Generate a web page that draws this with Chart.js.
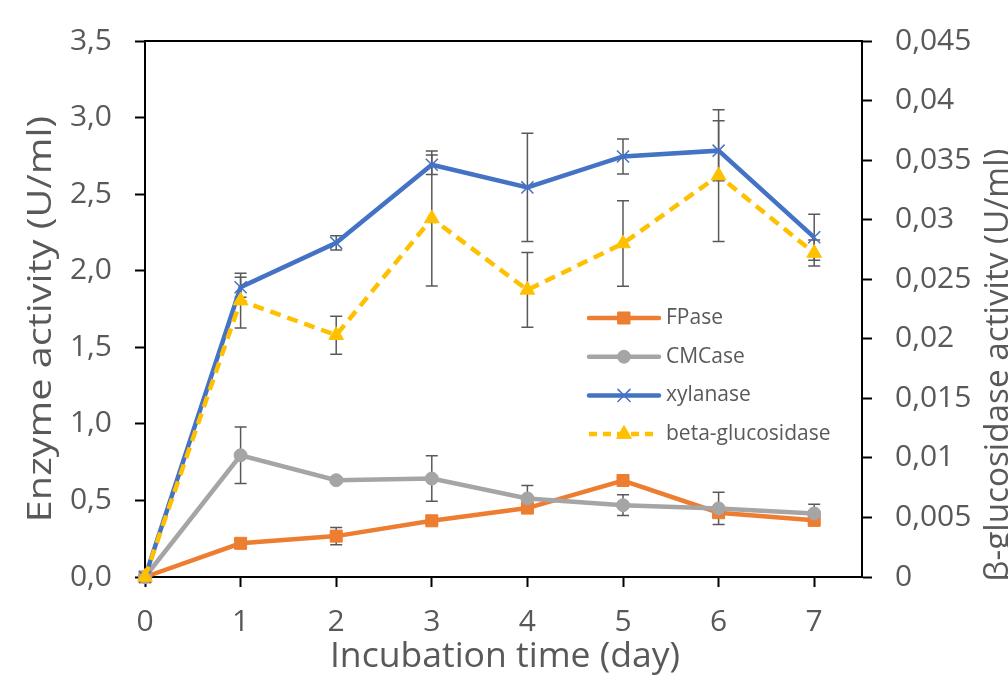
<!DOCTYPE html>
<html>
<head>
<meta charset="utf-8">
<script src="https://cdn.jsdelivr.net/npm/chart.js@4.4.1/dist/chart.umd.min.js"></script>
<style>
  html, body { margin: 0; padding: 0; background: #fff; }
  #wrap { width: 1008px; height: 685px; position: relative; }
</style>
</head>
<body>
<div id="wrap"><canvas id="c" width="1008" height="685"></canvas></div>
<script>
// ---- Data ----
const days = [0, 1, 2, 3, 4, 5, 6, 7];
const fpase = [0, 0.22, 0.267, 0.367, 0.45, 0.63, 0.42, 0.37];
const fpaseErr = [0, 0.02, 0.057, 0.02, 0.02, 0.03, 0.03, 0.02];
const cmcase = [0, 0.795, 0.632, 0.643, 0.513, 0.469, 0.448, 0.415];
const cmcaseErr = [0, 0.185, 0.02, 0.148, 0.085, 0.068, 0.105, 0.06];
const xylanase = [0, 1.892, 2.182, 2.692, 2.544, 2.746, 2.784, 2.218];
const xylanaseErr = [0, 0.065, 0.046, 0.063, 0.354, 0.114, 0.196, 0.15];
const betaGlu = [0, 0.0232, 0.0203, 0.0301, 0.0241, 0.0280, 0.0337, 0.0272];
const betaGluErr = [0, 0.0023, 0.0016, 0.00566, 0.00314, 0.00359, 0.00553, 0.0011];
const seriesNames = ['FPase', 'CMCase', 'xylanase', 'beta-glucosidase'];
const xTitle = 'Incubation time (day)';
const yTitle = 'Enzyme activity (U/ml)';
const y2Title = 'β-glucosidase activity (U/ml)';

const FONT = "'Open Sans', 'Noto Sans', sans-serif";
const TXT = '#595959';

const pts = (vals) => days.map((d, i) => ({ x: d, y: vals[i] }));

const datasets = [
  { label: seriesNames[0], data: pts(fpase), errors: fpaseErr, yAxisID: 'y',
    borderColor: '#ED7D31', backgroundColor: '#ED7D31', borderWidth: 4.5,
    pointStyle: 'rect', pointRadius: 8.5, pointBorderWidth: 1, order: 3 },
  { label: seriesNames[1], data: pts(cmcase), errors: cmcaseErr, yAxisID: 'y',
    borderColor: '#A5A5A5', backgroundColor: '#A5A5A5', borderWidth: 4.5,
    pointStyle: 'circle', pointRadius: 6.5, pointBorderWidth: 1, order: 2 },
  { label: seriesNames[2], data: pts(xylanase), errors: xylanaseErr, yAxisID: 'y',
    borderColor: '#4472C4', backgroundColor: '#4472C4', borderWidth: 4.5,
    pointStyle: 'crossRot', pointRadius: 8.5, pointBorderWidth: 1.5, order: 1 },
  { label: seriesNames[3], data: pts(betaGlu), errors: betaGluErr, yAxisID: 'y2',
    borderColor: '#FFC000', backgroundColor: '#FFC000', borderWidth: 4.5, borderDash: [11, 7],
    pointStyle: 'triangle', pointRadius: 8.5, pointBorderWidth: 1, order: 0 }
];
datasets.forEach(d => { d.clip = false; d.tension = 0; d.fill = false; d.pointHoverRadius = d.pointRadius; });

const errorBars = {
  id: 'errorBars',
  beforeDatasetsDraw(chart) {
    const ctx = chart.ctx;
    const xs = chart.scales.x;
    ctx.save();
    ctx.strokeStyle = '#595959';
    ctx.lineWidth = 1.5;
    chart.data.datasets.forEach(ds => {
      const ys = chart.scales[ds.yAxisID];
      ds.data.forEach((p, i) => {
        const e = ds.errors[i];
        if (!e) return;
        const x = xs.getPixelForValue(p.x);
        const yt = ys.getPixelForValue(p.y + e);
        const yb = ys.getPixelForValue(p.y - e);
        ctx.beginPath();
        ctx.moveTo(x, yt); ctx.lineTo(x, yb);
        ctx.moveTo(x - 6, yt); ctx.lineTo(x + 6, yt);
        ctx.moveTo(x - 6, yb); ctx.lineTo(x + 6, yb);
        ctx.stroke();
      });
    });
    ctx.restore();
  }
};

function stretchedText(ctx, text, size, targetWidth) {
  ctx.font = `${size}px ${FONT}`;
  const m = ctx.measureText(text);
  const w = (m.actualBoundingBoxLeft || 0) + (m.actualBoundingBoxRight || m.width);
  const sx = targetWidth / w;
  ctx.scale(sx, 1);
  ctx.fillText(text, 0, 0);
}

const decor = {
  id: 'decor',
  beforeDatasetsDraw(chart) {
    const { ctx, chartArea: a } = chart;
    ctx.save();
    ctx.strokeStyle = '#000';
    ctx.lineWidth = 2;
    ctx.beginPath();
    ctx.moveTo(a.left, a.top); ctx.lineTo(a.right, a.top);
    ctx.stroke();
    ctx.restore();
  },
  afterDraw(chart) {
    const { ctx, chartArea: a } = chart;
    ctx.save();
    ctx.fillStyle = TXT;
    ctx.textAlign = 'center';
    ctx.textBaseline = 'alphabetic';
    // bottom title
    ctx.save();
    ctx.translate(505, 667);
    stretchedText(ctx, xTitle, 34, 346);
    ctx.restore();
    // left title
    ctx.save();
    ctx.translate(51, 319);
    ctx.rotate(-Math.PI / 2);
    stretchedText(ctx, yTitle, 32, 402);
    ctx.restore();
    // right title
    ctx.save();
    ctx.translate(1008, 365);
    ctx.rotate(-Math.PI / 2);
    stretchedText(ctx, y2Title, 33, 430);
    ctx.restore();

    // legend
    const lx0 = 589, lx1 = 659, tx = 666, ly0 = 318, dy = 38.7;
    ctx.font = `21px ${FONT}`;
    ctx.textAlign = 'left';
    ctx.textBaseline = 'middle';
    chart.data.datasets.forEach((ds, i) => {
      const y = ly0 + i * dy;
      ctx.save();
      ctx.strokeStyle = ds.borderColor;
      ctx.lineWidth = 4.5;
      ctx.lineCap = 'round';
      if (ds.borderDash) { ctx.setLineDash([8, 6]); ctx.lineCap = 'butt'; }
      ctx.beginPath();
      ctx.moveTo(lx0, y); ctx.lineTo(lx1, y);
      ctx.stroke();
      ctx.setLineDash([]);
      ctx.fillStyle = ds.backgroundColor;
      ctx.strokeStyle = ds.borderColor;
      ctx.lineWidth = ds.pointBorderWidth;
      Chart.helpers.drawPoint(ctx, { pointStyle: ds.pointStyle, radius: ds.pointRadius, rotation: 0, borderWidth: ds.pointBorderWidth }, (lx0 + lx1) / 2, y);
      ctx.restore();
      ctx.fillStyle = TXT;
      ctx.fillText(ds.label, tx, y);
    });
    ctx.restore();
  }
};

const axisGrid = { display: true, drawOnChartArea: false, drawTicks: true, tickLength: 10, tickColor: '#000', tickWidth: 2, color: '#000' };
const axisBorder = { display: true, color: '#000', width: 2 };
const tickFont = { family: FONT, size: 30 };

new Chart(document.getElementById('c'), {
  type: 'line',
  data: { datasets },
  options: {
    responsive: false,
    animation: false,
    events: [],
    layout: { padding: { top: 41, left: 0, right: 0, bottom: 0 } },
    plugins: { legend: { display: false }, tooltip: { enabled: false } },
    scales: {
      x: {
        type: 'linear', position: 'bottom', min: 0, max: 7.5,
        ticks: { color: TXT, font: tickFont, padding: 17, maxRotation: 0, autoSkip: false,
                 callback: v => String(v) },
        afterBuildTicks: s => { s.ticks = days.map(d => ({ value: d })); },
        afterFit: s => { s.height = 108; },
        grid: axisGrid, border: axisBorder
      },
      y: {
        type: 'linear', position: 'left', min: 0, max: 3.5,
        ticks: { stepSize: 0.5, color: TXT, font: tickFont, padding: 23,
                 callback: v => Number(v).toFixed(1).replace('.', ',') },
        afterFit: s => { s.width = 145; },
        grid: axisGrid, border: axisBorder
      },
      y2: {
        type: 'linear', position: 'right', min: 0, max: 0.045,
        ticks: { stepSize: 0.005, color: TXT, font: tickFont, padding: 23,
                 callback: v => String(+Number(v).toFixed(3)).replace('.', ',') },
        afterFit: s => { s.width = 146; },
        grid: axisGrid, border: axisBorder
      }
    }
  },
  plugins: [errorBars, decor]
});
</script>
</body>
</html>
